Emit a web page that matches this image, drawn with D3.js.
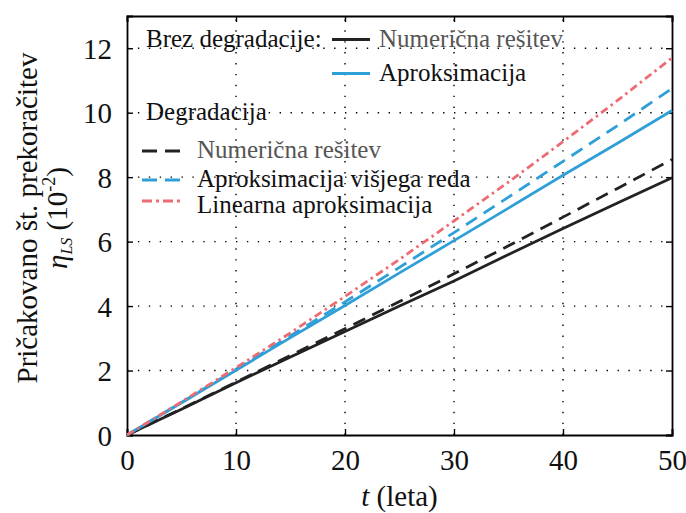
<!DOCTYPE html>
<html>
<head>
<meta charset="utf-8">
<script src="https://cdn.jsdelivr.net/npm/d3@7"></script>
<style>
  html, body { margin: 0; padding: 0; background: #fff; }
  svg { display: block; }
  svg text { font-family: "Liberation Serif", "Times New Roman", serif; }
</style>
</head>
<body>
<svg id="chart" width="686" height="513"></svg>
<script>
// Time in years
const years = [0, 5, 10, 15, 20, 25, 30, 35, 40, 45, 50];

// Expected number of exceedances (x 10^-2)
const numNoDeg   = [0, 0.80, 1.62, 2.42, 3.21, 4.00, 4.78, 5.60, 6.41, 7.20, 7.98];
const aproxNoDeg = [0, 1.00, 2.01, 3.02, 4.02, 5.03, 6.03, 7.04, 8.06, 9.05, 10.07];
const numDeg     = [0, 0.81, 1.64, 2.47, 3.30, 4.14, 5.00, 5.87, 6.76, 7.65, 8.55];
const aproxHigh  = [0, 1.01, 2.04, 3.08, 4.13, 5.20, 6.28, 7.38, 8.49, 9.60, 10.75];
const aproxLin   = [0, 1.03, 2.09, 3.17, 4.30, 5.45, 6.64, 7.85, 9.10, 10.38, 11.70];

const xTicks = [0, 10, 20, 30, 40, 50];
const yTicks = [0, 2, 4, 6, 8, 10, 12];

const BLACK = "#222222", BLUE = "#2f9fd8", RED = "#ee6b73";
const DASH = "13,8", DASHDOT = "8,4,2.5,4";

const series = [
  { values: numNoDeg,   color: BLACK, dash: null },
  { values: aproxNoDeg, color: BLUE,  dash: null },
  { values: numDeg,     color: BLACK, dash: DASH },
  { values: aproxHigh,  color: BLUE,  dash: DASH },
  { values: aproxLin,   color: RED,   dash: DASHDOT }
];

const svg = d3.select("#chart");
const m = { left: 127, right: 14, top: 16, bottom: 78 };
const W = 686, H = 513;
const x = d3.scaleLinear().domain([0, 50]).range([m.left, W - m.right]);
const y = d3.scaleLinear().domain([0, 13]).range([H - m.bottom, m.top]);

// dotted grid
const grid = svg.append("g").attr("stroke", "#000").attr("stroke-width", 1.4)
  .attr("stroke-dasharray", "1.4,9.5");
grid.selectAll(".gx").data(xTicks.slice(1, -1)).join("line")
  .attr("x1", d => x(d)).attr("x2", d => x(d))
  .attr("y1", y(0)).attr("y2", y(13));
grid.selectAll(".gy").data(yTicks.slice(1)).join("line")
  .attr("x1", x(0)).attr("x2", x(50))
  .attr("y1", d => y(d)).attr("y2", d => y(d));

// axes with inward ticks on all four sides
const axB = svg.append("g").attr("transform", `translate(0,${y(0)})`)
  .call(d3.axisBottom(x).tickValues(xTicks).tickSize(-6).tickPadding(14));
const axL = svg.append("g").attr("transform", `translate(${x(0)},0)`)
  .call(d3.axisLeft(y).tickValues(yTicks).tickSize(-6).tickPadding(15));
const axT = svg.append("g").attr("transform", `translate(0,${y(13)})`)
  .call(d3.axisTop(x).tickValues(xTicks).tickSize(-6).tickFormat(""));
const axR = svg.append("g").attr("transform", `translate(${x(50)},0)`)
  .call(d3.axisRight(y).tickValues(yTicks).tickSize(-6).tickFormat(""));
[axB, axL, axT, axR].forEach(a => {
  a.attr("font-family", null).attr("font-size", null);
  a.select(".domain").attr("stroke", "#000").attr("stroke-width", 1.8);
  a.selectAll(".tick line").attr("stroke", "#000").attr("stroke-width", 1.4);
  a.selectAll(".tick text").attr("fill", "#111").style("font-size", "29px");
});
axL.selectAll(".tick text").attr("dy", "0.35em");
axB.selectAll(".tick text").attr("dy", "0.72em");

// data lines
const line = d3.line().x((d, i) => x(years[i])).y(d => y(d));
svg.append("g").selectAll("path").data(series).join("path")
  .attr("d", d => line(d.values))
  .attr("fill", "none")
  .attr("stroke", d => d.color)
  .attr("stroke-width", 2.8)
  .attr("stroke-dasharray", d => d.dash);

// legend
const leg = svg.append("g").style("font-size", "25px");
leg.append("text").attr("x", 146).attr("y", 47).attr("fill", "#111").text("Brez degradacije:");
leg.append("text").attr("x", 146).attr("y", 120).attr("fill", "#111").text("Degradacija");

const legItems = [
  { label: "Numerična rešitev", color: BLACK, dash: null, lx: 332, ly: 39.5, tx: 379, ty: 47, tc: "#555" },
  { label: "Aproksimacija", color: BLUE, dash: null, lx: 332, ly: 73.5, tx: 379, ty: 81, tc: "#111" },
  { label: "Numerična rešitev", color: BLACK, dash: "15,8", lx: 142, ly: 151, tx: 197, ty: 158, tc: "#555" },
  { label: "Aproksimacija višjega reda", color: BLUE, dash: "15,8", lx: 142, ly: 180, tx: 197, ty: 187, tc: "#111" },
  { label: "Linearna aproksimacija", color: RED, dash: "10,4,3,4", lx: 142, ly: 201, tx: 197, ty: 213, tc: "#111" }
];
legItems.forEach(it => {
  leg.append("line").attr("x1", it.lx).attr("x2", it.lx + 38)
    .attr("y1", it.ly).attr("y2", it.ly)
    .attr("stroke", it.color).attr("stroke-width", 2.8)
    .attr("stroke-dasharray", it.dash);
  leg.append("text").attr("x", it.tx).attr("y", it.ty).attr("fill", it.tc).text(it.label);
});

// axis titles
svg.append("text").attr("x", x(25)).attr("y", 506).attr("text-anchor", "middle")
  .style("font-size", "29px").attr("fill", "#111")
  .call(t => {
    t.append("tspan").style("font-style", "italic").text("t");
    t.append("tspan").text(" (leta)");
  });

const yl = svg.append("g").attr("transform", "translate(0,218) rotate(-90)");
yl.append("text").attr("x", 0).attr("y", 37).attr("text-anchor", "middle")
  .style("font-size", "29px").attr("fill", "#111").text("Pričakovano št. prekoračitev");
yl.append("text").attr("x", 0).attr("y", 67).attr("text-anchor", "middle")
  .style("font-size", "29px").attr("fill", "#111")
  .call(t => {
    t.append("tspan").style("font-style", "italic").text("η");
    t.append("tspan").style("font-style", "italic").style("font-size", "16px")
      .attr("dy", 5).text("LS");
    t.append("tspan").attr("dy", -5).text(" (10");
    t.append("tspan").style("font-size", "18px").attr("dy", -12).text("-2");
    t.append("tspan").attr("dy", 12).text(")");
  });
</script>
</body>
</html>
